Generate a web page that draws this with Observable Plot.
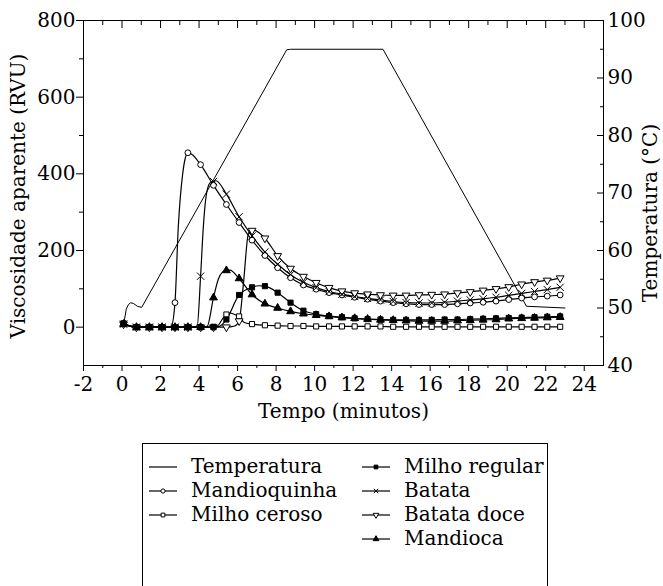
<!DOCTYPE html>
<html><head><meta charset="utf-8">
<script src="https://cdn.jsdelivr.net/npm/d3@7"></script>
<script src="https://cdn.jsdelivr.net/npm/@observablehq/plot@0.6"></script>
<style>
body{margin:0;background:#fff;}
#wrap{position:relative;width:663px;height:586px;overflow:hidden;font-family:"DejaVu Serif",serif;background:#fff;}
#legend{position:absolute;left:142px;top:443px;width:406px;height:200px;border:1px solid #000;box-sizing:border-box;}
</style></head><body><div id="wrap"><div id="chart"></div><div id="legend"></div></div>
<script>
// ---- data ----
const markerTimes = [0.08, 0.75, 1.42, 2.08, 2.75, 3.42, 4.08, 4.75, 5.42, 6.08, 6.75, 7.42, 8.08, 8.75, 9.42, 10.08, 10.75, 11.42, 12.08, 12.75, 13.42, 14.08, 14.75, 15.42, 16.08, 16.75, 17.42, 18.08, 18.75, 19.42, 20.08, 20.75, 21.42, 22.08, 22.75];
const mandioquinha = [8, 0, 0, 0, 64, 455, 424, 370, 320, 273, 227, 187, 155, 129, 110, 99, 90, 84, 78, 73, 68, 64, 61, 59, 59, 59, 61, 63, 65, 68, 72, 76, 79, 81, 84];
const milhoCeroso = [8, 0, 0, 0, 0, 0, 0, 1, 33, 28, 8, 5, 4, 3, 3, 2, 2, 2, 2, 2, 2, 1, 1, 1, 1, 1, 1, 1, 1, 1, 1, 1, 1, 1, 1];
const batataDoce = [8, 0, 0, 0, 0, 0, 0, 0, 0, 16, 252, 232, 186, 153, 132, 116, 103, 94, 89, 86, 84, 83, 83, 84, 85, 86, 89, 92, 96, 100, 105, 112, 118, 122, 128];
const batata = [8, 0, 0, 0, 0, 0, 133, 380, 347, 288, 238, 196, 164, 137, 117, 103, 93, 86, 80, 75, 71, 67, 64, 63, 63, 65, 68, 71, 74, 78, 83, 88, 93, 98, 104];
const mandioca = [8, 0, 0, 0, 0, 0, 0, 77, 148, 127, 85, 61, 50, 41, 35, 31, 28, 25, 23, 21, 19, 18, 17, 16, 16, 16, 17, 18, 19, 20, 22, 23, 24, 25, 26];
const milhoRegular = [10, 0, 0, 0, 0, 0, 0, 0, 20, 84, 104, 107, 90, 64, 43, 34, 29, 26, 23, 21, 20, 19, 19, 19, 19, 20, 20, 21, 22, 23, 24, 25, 26, 27, 28];
// extra curve points between markers (line only)
const mandioquinhaExtra = [[2.55, 2], [2.92, 260], [3.15, 400], [3.28, 440], [3.6, 452]];
const milhoCerosoExtra = [[4.95, 3], [5.2, 20], [5.6, 37], [5.85, 33], [6.35, 12]];
const batataDoceExtra = [[5.85, 3], [6.3, 111], [6.56, 243], [6.85, 253], [7.1, 247]];
const batataExtra = [[3.9, 2], [4.22, 260], [4.4, 352], [4.6, 378], [4.88, 382]];
const mandiocaExtra = [[4.42, 2], [5.0, 125], [5.2, 143], [5.6, 149]];
const milhoRegularExtra = [[5.05, 2], [7.1, 108]];
// temperature (°C)
const tempTimes = [0.1, 0.22, 0.33, 0.45, 0.59, 0.8, 1.02, 8.55, 8.75, 13.55, 21.0, 23.0];
const tempValues = [47.4, 49.8, 50.6, 50.9, 50.8, 50.3, 50.1, 94.9, 95.0, 95.0, 50.3, 50.0];
// ticks
const xMajor = [-2, 0, 2, 4, 6, 8, 10, 12, 14, 16, 18, 20, 22, 24];
const xMinor = [-1, 1, 3, 5, 7, 9, 11, 13, 15, 17, 19, 21, 23];
const yMajor = [0, 200, 400, 600, 800];
const yMinor = [100, 300, 500, 700];
const tMajor = [40, 50, 60, 70, 80, 90, 100];
const tMinor = [45, 55, 65, 75, 85, 95];

// ---- build ----
const toV = T => -100 + (T - 40) * 15;
const fromV = v => 40 + (v + 100) / 15;
const series = [
  {name: "Mandioquinha", values: mandioquinha, extra: mandioquinhaExtra, symbol: "circle", fill: "white"},
  {name: "Milho ceroso", values: milhoCeroso, extra: milhoCerosoExtra, symbol: "square", fill: "white"},
  {name: "Batata doce", values: batataDoce, extra: batataDoceExtra, symbol: "triangle", fill: "white", rotate: 180},
  {name: "Batata", values: batata, extra: batataExtra, symbol: "times", fill: "none"},
  {name: "Mandioca", values: mandioca, extra: mandiocaExtra, symbol: "triangle", fill: "black"},
  {name: "Milho regular", values: milhoRegular, extra: milhoRegularExtra, symbol: "square", fill: "black"}
];
const tempData = tempTimes.map((t, i) => ({t, v: toV(tempValues[i])}));

const marks = [
  Plot.line(tempData, {x: "t", y: "v", curve: "linear", stroke: "black", strokeWidth: 1})
];
for (const s of series) {
  const pts = markerTimes.map((t, i) => ({t, v: s.values[i]}))
    .concat(s.extra.map(([t, v]) => ({t, v})))
    .sort((a, b) => a.t - b.t);
  marks.push(Plot.line(pts, {x: "t", y: "v", curve: "monotone-x", stroke: "black", strokeWidth: 1.2}));
}
for (const s of series) {
  const pts = markerTimes.map((t, i) => ({t, v: s.values[i]}));
  const opts = {x: "t", y: "v", symbol: s.symbol, r: 2.9, stroke: "black", strokeWidth: 1, fill: s.fill};
  if (s.rotate) opts.rotate = s.rotate;
  if (s.symbol === "times") { opts.r = 3.4; delete opts.fill; }
  marks.push(Plot.dot(pts, opts));
}

const fs = 20;
const axes = [
  Plot.frame({stroke: "black"}),
  Plot.axisX(xMajor, {anchor: "bottom", tickSize: 6, tickPadding: 5, tickFormat: d => String(d), label: null, fontSize: fs}),
  Plot.axisX(xMinor, {anchor: "bottom", tickSize: 3, tickFormat: () => "", label: null}),
  Plot.axisX(xMajor, {anchor: "top", tickSize: -7, tickFormat: () => "", label: null}),
  Plot.axisX(xMinor, {anchor: "top", tickSize: -4, tickFormat: () => "", label: null}),
  Plot.axisY(yMajor, {anchor: "left", tickSize: 7, tickPadding: 1, tickFormat: d => String(d), label: null, fontSize: fs}),
  Plot.axisY(yMinor, {anchor: "left", tickSize: 4, tickFormat: () => "", label: null}),
  Plot.axisY(tMajor.map(toV), {anchor: "right", tickSize: -7, tickPadding: 11, tickFormat: v => String(Math.round(fromV(v))), label: null, fontSize: fs}),
  Plot.axisY(tMinor.map(toV), {anchor: "right", tickSize: -4, tickFormat: () => "", label: null}),
  Plot.text(["Viscosidade aparente (RVU)"], {frameAnchor: "left", textAnchor: "middle", lineAnchor: "middle", rotate: -90, dx: -65, dy: 3, fontSize: fs}),
  Plot.text(["Temperatura (°C)"], {frameAnchor: "right", textAnchor: "middle", lineAnchor: "middle", rotate: -90, dx: 47, dy: 20, fontSize: fs}),
  Plot.text(["Tempo (minutos)"], {frameAnchor: "bottom", textAnchor: "middle", lineAnchor: "middle", dy: 46, fontSize: fs})
];

const chart = Plot.plot({
  width: 663, height: 430,
  marginLeft: 83, marginRight: 60, marginTop: 20, marginBottom: 65,
  x: {domain: [-2, 25]},
  y: {domain: [-100, 800]},
  style: {fontFamily: "DejaVu Serif", fontSize: fs + "px", color: "black", background: "white", overflow: "visible"},
  marks: [...axes, ...marks]
});
document.getElementById("chart").appendChild(chart);

// ---- legend ----
const legendItems = [
  {name: "Temperatura", col: 0, row: 0, symbol: null},
  {name: "Mandioquinha", col: 0, row: 1, symbol: d3.symbolCircle, fill: "white"},
  {name: "Milho ceroso", col: 0, row: 2, symbol: d3.symbolSquare, fill: "white"},
  {name: "Milho regular", col: 1, row: 0, symbol: d3.symbolSquare, fill: "black"},
  {name: "Batata", col: 1, row: 1, symbol: d3.symbolTimes, fill: "none"},
  {name: "Batata doce", col: 1, row: 2, symbol: d3.symbolTriangle, fill: "white", rotate: 180},
  {name: "Mandioca", col: 1, row: 3, symbol: d3.symbolTriangle, fill: "black"}
];
const colLine = [6, 219], colText = [48, 261], rowY = [23, 47, 71, 95];
const lsvg = d3.select("#legend").append("svg").attr("width", 404).attr("height", 198)
  .style("font-family", "DejaVu Serif").style("font-size", fs + "px");
for (const it of legendItems) {
  const x0 = colLine[it.col], y = rowY[it.row];
  lsvg.append("line").attr("x1", x0).attr("x2", x0 + 28).attr("y1", y).attr("y2", y)
    .attr("stroke", "black").attr("stroke-width", 1.2);
  if (it.symbol) {
    lsvg.append("path").attr("d", d3.symbol(it.symbol, 14)())
      .attr("transform", `translate(${x0 + 14},${y})` + (it.rotate ? ` rotate(${it.rotate})` : ""))
      .attr("fill", it.fill).attr("stroke", "black").attr("stroke-width", 1);
  }
  lsvg.append("text").attr("x", colText[it.col]).attr("y", y).attr("dy", "0.32em").text(it.name);
}
</script></body></html>
